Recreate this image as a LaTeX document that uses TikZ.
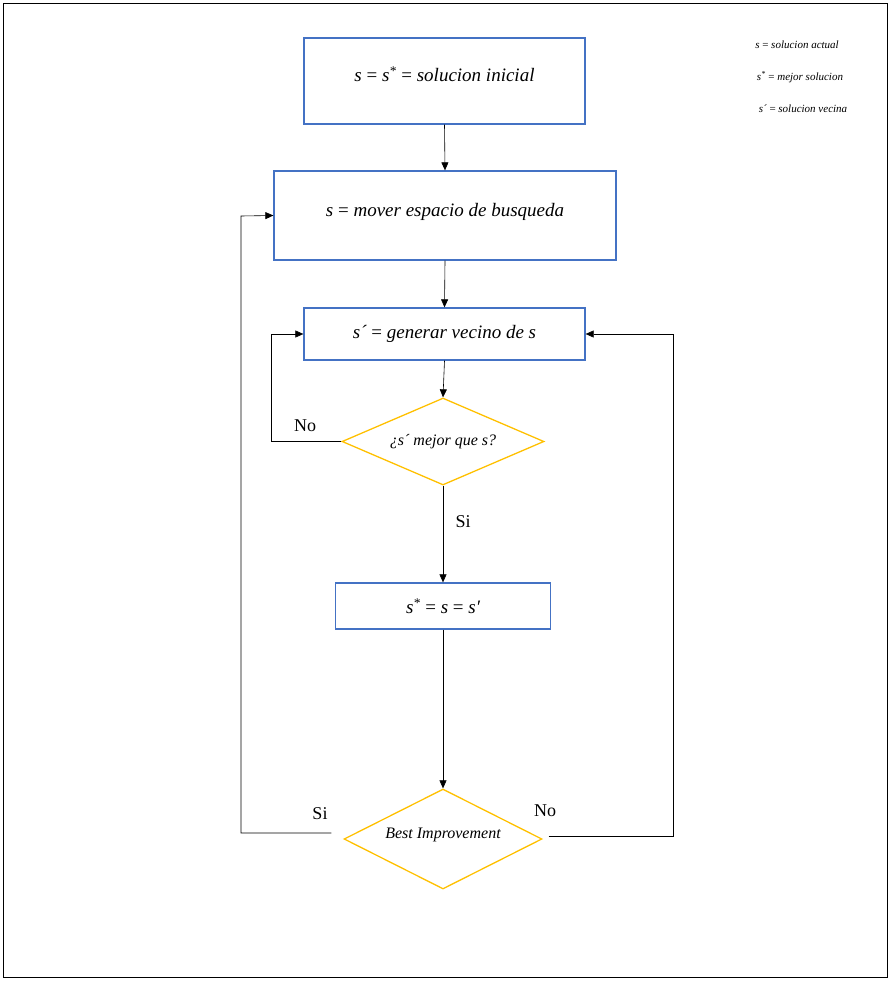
\documentclass[tikz,border=0pt]{standalone}
\usepackage{fontspec}
\setmainfont{Liberation Serif}
\usetikzlibrary{shapes.geometric,arrows.meta}
\definecolor{bl}{HTML}{4472C4}
\definecolor{gd}{HTML}{FFC000}
\newcommand{\eqq}{{\upshape\ =\ }}
\begin{document}
\begin{tikzpicture}[x=1pt,y=-1pt,
 box/.style={draw=bl,line width=1.3pt,minimum width=#1,inner sep=0pt,font=\fontsize{19}{19}\selectfont\itshape},
 dia/.style={diamond,draw=gd,line width=1.3pt,aspect=2.3,inner sep=0pt,font=\fontsize{16}{16}\selectfont\itshape},
 ar/.style={-{Triangle[length=8pt,width=7pt]},line width=0.6pt},
 lab/.style={font=\fontsize{18}{18}\selectfont},
 leg/.style={font=\fontsize{11}{11}\selectfont\itshape}]
\useasboundingbox (0,0) rectangle (891,982);
\draw[line width=0.8pt] (3,3) rectangle (887,977);
\node[box=281pt,minimum height=86pt,text depth=14pt] (b1) at (444.5,81) {s\eqq s\textsuperscript{*}\eqq solucion inicial};
\node[box=342pt,minimum height=89pt,text depth=12pt] (b2) at (445,215.5) {s\eqq mover espacio de busqueda};
\node[box=281pt,minimum height=52pt,text depth=4pt] (b3) at (444.5,334) {s´\eqq generar vecino de s};
\node[dia,minimum width=202pt,minimum height=87pt] (d1) at (443,441.5) {¿s´ mejor que s?};
\node[box=215pt,minimum height=46pt] (b4) at (443,606) {s\textsuperscript{*}\eqq s\eqq s′};
\node[dia,minimum width=198pt,minimum height=100pt,text depth=12pt] (d2) at (443,839) {Best Improvement};
\node[leg] at (797,45) {s\eqq solucion actual};
\node[leg] at (800,77) {s\textsuperscript{*}\eqq mejor solucion};
\node[leg] at (803,109) {s´\eqq solucion vecina};
\coordinate (c1) at (271,441.5);
\coordinate (c2) at (271,334);
\coordinate (c3) at (241,833);
\coordinate (c4) at (241,216);
\coordinate (c5) at (673,836);
\coordinate (c6) at (673,334);
\draw[ar] (b1.south) -- (b2.north);
\draw[ar] (b2.south) -- (b3.north);
\draw[ar] (b3.south) -- (d1.north);
\draw[ar] (d1.south) -- (b4.north);
\draw[ar] (b4.south) -- (d2.north);
\draw[ar] (d1.west) -- (c1) -- (c2) -- (b3.west);
\draw[ar] ([xshift=-12pt]d2.west|-c3) -- (c3) -- (c4) -- (b2.west);
\draw[ar] ([xshift=6pt]d2.east|-c5) -- (c5) -- (c6) -- (b3.east);
\node[lab] at (305,426) {No};
\node[lab] at (463,522) {Si};
\node[lab] at (320,814) {Si};
\node[lab] at (545,811) {No};
\end{tikzpicture}
\end{document}
